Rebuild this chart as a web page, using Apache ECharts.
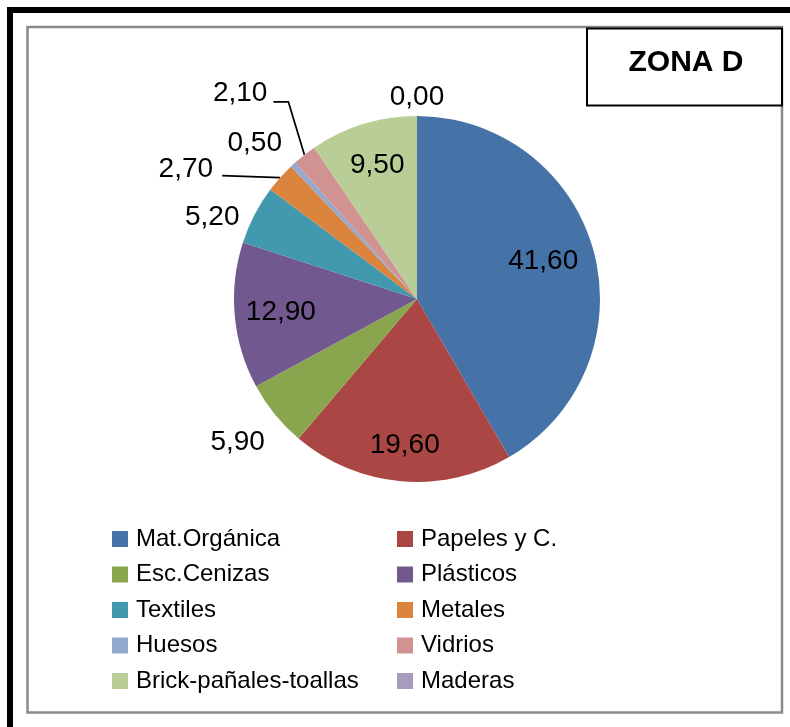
<!DOCTYPE html>
<html>
<head>
<meta charset="utf-8">
<title>ZONA D</title>
<script src="https://cdn.jsdelivr.net/npm/echarts@6/dist/echarts.min.js"></script>
<style>
  html, body { margin: 0; padding: 0; background: #fff; }
  #chart { width: 790px; height: 727px; }
</style>
</head>
<body>
<div id="chart"></div>
<script>
// datos de la zona
const categories = ['Mat.Orgánica', 'Papeles y C.', 'Esc.Cenizas', 'Plásticos', 'Textiles',
  'Metales', 'Huesos', 'Vidrios', 'Brick-pañales-toallas', 'Maderas'];
const values = [41.6, 19.6, 5.9, 12.9, 5.2, 2.7, 0.5, 2.1, 9.5, 0.0];
const titleText = 'ZONA D';

// estilo
const colors = ['#4572A7', '#AA4643', '#89A54E', '#71588F', '#4198AF',
  '#DB843D', '#93A9CF', '#D19392', '#B9CD96', '#A99BBD'];
const FONT = 'Liberation Sans';
const insideLabel = [true, true, false, true, false, false, false, false, true, false];
// desplazamiento de cada etiqueta respecto a la posicion por defecto
const labelShift = [[35, -13], [-4, 52], [-5, 28], [-42, 5], [-10, 2],
  [-62, -8], [-6, -21], [-32, -61], [-12, -43], [0, -19]];
const leaderLine = [null, null, null, null, null, 'flat', null, 'bent', null, null];

const fmt = v => v.toFixed(2).replace('.', ',');

const chart = echarts.init(document.getElementById('chart'));

function legendFor(names, left) {
  return {
    orient: 'vertical',
    left: left,
    top: 527,
    padding: 0,
    itemWidth: 16,
    itemHeight: 16,
    itemGap: 11.5,
    icon: 'rect',
    selectedMode: false,
    data: names,
    textStyle: { fontFamily: FONT, fontSize: 24, color: '#000', lineHeight: 24, padding: [0, 0, 0, 3] }
  };
}

const option = {
  animation: false,
  color: colors,
  graphic: [
    { type: 'rect', shape: { x: 10, y: 10, width: 800, height: 740 },
      style: { fill: 'none', stroke: '#000', lineWidth: 6 } },
    { type: 'rect', shape: { x: 27.5, y: 27, width: 754.5, height: 685.5 },
      style: { fill: 'none', stroke: '#8a8a8a', lineWidth: 2.5 } },
    { type: 'rect', shape: { x: 587, y: 28.5, width: 195, height: 77 },
      style: { fill: '#fff', stroke: '#000', lineWidth: 2 } },
    { type: 'text', x: 686, y: 63,
      style: { text: titleText, fontFamily: FONT, fontWeight: 'bold', fontSize: 30,
        fill: '#000', align: 'center', verticalAlign: 'middle' } }
  ],
  legend: [
    legendFor(categories.filter((c, i) => i % 2 === 0), 112),
    legendFor(categories.filter((c, i) => i % 2 === 1), 397)
  ],
  series: [{
    type: 'pie',
    center: [417, 299],
    radius: 183,
    startAngle: 90,
    clockwise: true,
    avoidLabelOverlap: false,
    emphasis: { disabled: true },
    label: {
      show: true,
      position: 'outside',
      fontFamily: FONT,
      fontSize: 28,
      color: '#000',
      formatter: p => fmt(p.value)
    },
    labelLine: { show: false, length: 0, length2: 0, lineStyle: { color: '#000', width: 1.75 } },
    data: categories.map((name, i) => ({
      name: name,
      value: values[i],
      label: { position: insideLabel[i] ? 'inside' : 'outside' },
      labelLine: { show: !!leaderLine[i] }
    })),
    labelLayout: function (p) {
      const i = p.dataIndex;
      const s = labelShift[i];
      const r = p.labelRect;
      let cx = r.x + r.width / 2 + s[0];
      const cy = r.y + r.height / 2 + s[1];
      if (values[i] === 0 && p.rect) cx = p.rect.x + p.rect.width / 2;
      const out = { x: cx, y: cy, align: 'center', verticalAlign: 'middle' };
      const kind = leaderLine[i];
      if (kind && p.labelLinePoints) {
        const e = p.labelLinePoints[0];
        const right = cx + r.width / 2;
        if (kind === 'flat') out.labelLinePoints = [e, [right + 9, cy + 6]];
        else out.labelLinePoints = [e, [right + 21, cy + 8], [right + 6, cy + 8]];
      }
      return out;
    }
  }]
};

chart.setOption(option);
</script>
</body>
</html>
